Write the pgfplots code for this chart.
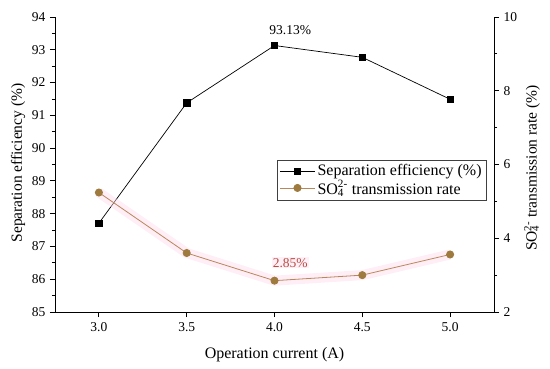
\documentclass[border=0pt]{standalone}
\usepackage{fontspec}
\setmainfont{Liberation Serif}
\usepackage{pgfplots}
\pgfplotsset{compat=1.18}
\definecolor{brownm}{RGB}{158,122,62}
\definecolor{brownl}{RGB}{185,135,90}
\definecolor{glow}{RGB}{255,218,236}
\definecolor{annot}{RGB}{185,75,65}
\begin{document}
\begin{tikzpicture}
\path[use as bounding box] (-55pt,-56pt) rectangle (495pt,312pt);
\pgfplotsset{every axis/.append style={
  scale only axis, width=439pt, height=295pt, xmin=2.75, xmax=5.25,
  /pgf/number format/assume math mode=true,
  tick label style={font=\fontsize{13.5}{15}\selectfont},
  tick align=outside, major tick length=5pt, minor tick length=3pt,
  every tick/.style={black, line width=0.8pt},
  axis line style={line width=0.9pt},
  label style={font=\fontsize{15.5}{18}\selectfont},
}}
\begin{axis}[
  axis y line*=left, axis x line*=bottom,
  ymin=85, ymax=94, ytick={85,...,94}, minor y tick num=1,
  xtick={3,3.5,4,4.5,5},
  xticklabel style={/pgf/number format/fixed, /pgf/number format/fixed zerofill, /pgf/number format/precision=1, yshift=-2pt},
  yticklabel style={xshift=-1pt},
  xlabel={Operation current (A)},
  xlabel style={at={(axis description cs:0.5,0)}, anchor=base, yshift=-46pt, font=\fontsize{16}{18}\selectfont},
  ylabel={Separation efficiency (\%)},
  ylabel style={at={(axis description cs:-0.0843,0.505)}, anchor=center},
]
\addplot[black, line width=0.7pt, mark=square*, mark size=3.2pt, mark options={solid, fill=black}]
  coordinates {(3.0,87.71) (3.5,91.38) (4.0,93.13) (4.5,92.77) (5.0,91.49)};
\node[anchor=base, font=\fontsize{13.5}{15}\selectfont] at (axis cs:4.09,93.48) {93.13\%};
\end{axis}
\begin{axis}[
  axis y line*=right, axis x line=none,
  ymin=2, ymax=10, ytick={2,4,...,10}, minor y tick num=1,
  yticklabel style={xshift=1pt},
  ylabel={SO\rlap{\textsubscript{4}}\textsuperscript{2-} transmission rate (\%)},
  ylabel style={at={(axis description cs:1.0866,0.488)}, anchor=center, rotate=0},
  legend style={at={(0.982,0.515)}, anchor=north east, draw=black!75, line width=0.6pt,
    font=\fontsize{16}{17}\selectfont, inner sep=2.5pt, outer sep=0pt, row sep=-1pt},
  legend cell align=left,
  legend image code/.code={\draw[mark repeat=2,mark phase=2] plot coordinates {(0cm,0cm) (0.62cm,0cm) (1.24cm,0cm)};},
]
\addlegendimage{black, line width=0.7pt, mark=square*, mark size=3pt, mark options={fill=black}}
\addlegendentry{Separation efficiency (\%)}
\addplot[glow, line width=10pt, opacity=0.45, forget plot]
  coordinates {(3.0,5.24) (3.5,3.60) (4.0,2.85) (4.5,3.00) (5.0,3.56)};
\addplot[brownl, line width=0.8pt, mark=*, mark size=3.6pt, mark options={fill=brownm, draw=brownm}]
  coordinates {(3.0,5.24) (3.5,3.60) (4.0,2.85) (4.5,3.00) (5.0,3.56)};
\addlegendentry{SO\rlap{\textsubscript{4}}\textsuperscript{2-} transmission rate}
\node[anchor=base, text=annot, fill=glow, fill opacity=0.4, text opacity=1, inner sep=1pt, font=\fontsize{13.5}{15}\selectfont] at (axis cs:4.09,3.22) {2.85\%};
\end{axis}
\end{tikzpicture}
\end{document}
